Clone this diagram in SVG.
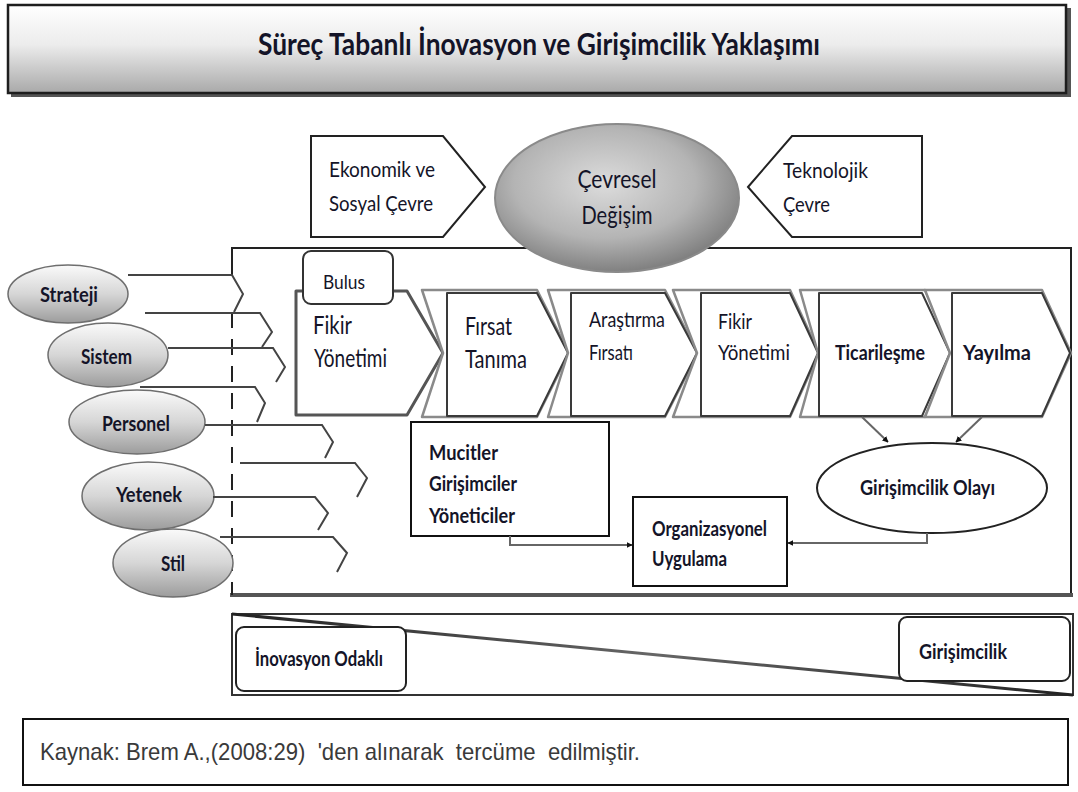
<svg xmlns="http://www.w3.org/2000/svg" width="1078" height="792" viewBox="0 0 1078 792">
  <defs>
    <linearGradient id="titleFill" x1="0" y1="0" x2="0" y2="1">
      <stop offset="0" stop-color="#ffffff"/>
      <stop offset="0.45" stop-color="#ececec"/>
      <stop offset="1" stop-color="#a9a9a9"/>
    </linearGradient>
    <linearGradient id="pillFill" x1="0" y1="0" x2="0" y2="1">
      <stop offset="0" stop-color="#fafafa"/>
      <stop offset="0.5" stop-color="#d6d6d6"/>
      <stop offset="1" stop-color="#9c9c9c"/>
    </linearGradient>
    <radialGradient id="changeFill" cx="0.45" cy="0.4" r="0.62">
      <stop offset="0" stop-color="#dcdcdc"/>
      <stop offset="0.6" stop-color="#b4b4b4"/>
      <stop offset="1" stop-color="#7c7c7c"/>
    </radialGradient>
    <linearGradient id="slopeLine" x1="0" y1="0" x2="1" y2="0">
      <stop offset="0" stop-color="#222"/>
      <stop offset="0.5" stop-color="#666"/>
      <stop offset="1" stop-color="#222"/>
    </linearGradient>
    <marker id="head" viewBox="0 0 10 10" refX="9" refY="5" markerWidth="6" markerHeight="6" orient="auto" markerUnits="userSpaceOnUse">
      <path d="M0,0 L10,5 L0,10 z" fill="#111"/>
    </marker>
    <style>
      .lbl { font-family: Lato, "Open Sans", "Liberation Sans", sans-serif; font-weight: bold; fill: #141428; }
      .reg { font-family: Lato, "Open Sans", "Liberation Sans", sans-serif; fill: #141428; }
      .pill { fill: url(#pillFill); stroke: #6e6e6e; stroke-width: 1.5; }
      .ghost { fill: #ffffff; stroke: #8a8a8a; stroke-width: 2.5; stroke-linejoin: round; }
      .step { fill: #ffffff; stroke: #3a3a3a; stroke-width: 2; stroke-linejoin: round; }
      .box { fill: #ffffff; stroke: #111; stroke-width: 2; }
      .wire { fill: none; stroke: #444; stroke-width: 2; }
      .flow { fill: none; stroke: #666; stroke-width: 2; }
    </style>
  </defs>

  <rect width="1078" height="792" fill="#ffffff"/>

  <!-- title bar -->
  <g id="title">
    <rect x="11" y="8" width="1060" height="89" fill="#555"/>
    <rect x="8" y="5" width="1058" height="88" fill="url(#titleFill)" stroke="#1e1e1e" stroke-width="2.5"/>
    <text class="lbl" x="539" y="55" font-size="30" text-anchor="middle" textLength="562" lengthAdjust="spacingAndGlyphs" fill="#000">Süreç Tabanlı İnovasyon ve Girişimcilik Yaklaşımı</text>
  </g>

  <!-- environment -->
  <g id="economic">
    <polygon points="311,136 443,136 485,187 443,237 311,237" fill="#fff" stroke="#222" stroke-width="2"/>
    <text class="reg" x="329" y="177" font-size="22" textLength="106" lengthAdjust="spacingAndGlyphs">Ekonomik ve</text>
    <text class="reg" x="329" y="211" font-size="22" textLength="104" lengthAdjust="spacingAndGlyphs">Sosyal Çevre</text>
  </g>
  <g id="technology">
    <polygon points="748,187 792,136 922,136 922,237 792,237" fill="#fff" stroke="#222" stroke-width="2"/>
    <text class="reg" x="783" y="178" font-size="22" textLength="85" lengthAdjust="spacingAndGlyphs">Teknolojik</text>
    <text class="reg" x="783" y="212" font-size="22" textLength="47" lengthAdjust="spacingAndGlyphs">Çevre</text>
  </g>

  <!-- main frame -->
  <g id="frame">
    <polyline points="232,275 232,248 1071,248 1071,595" fill="none" stroke="#222" stroke-width="2"/>
    <line x1="230" y1="595" x2="1073" y2="595" stroke="#555" stroke-width="4"/>
    <line x1="232" y1="312" x2="232" y2="595" stroke="#222" stroke-width="2" stroke-dasharray="16 11"/>
  </g>

  <g id="change">
    <ellipse cx="617" cy="198" rx="122" ry="74" fill="url(#changeFill)" stroke="#8a8a8a" stroke-width="2"/>
    <text class="reg" x="617" y="188" font-size="25" text-anchor="middle" textLength="79" lengthAdjust="spacingAndGlyphs">Çevresel</text>
    <text class="reg" x="617" y="224" font-size="25" text-anchor="middle" textLength="71" lengthAdjust="spacingAndGlyphs">Değişim</text>
  </g>

  <!-- process chain -->
  <g id="step-fikir">
    <polygon points="296,291 407,291 443,353 407,415 296,415" fill="#fff" stroke="#555" stroke-width="3" stroke-linejoin="round"/>
    <text class="reg" x="313" y="334" font-size="25" textLength="39" lengthAdjust="spacingAndGlyphs">Fikir</text>
    <text class="reg" x="314" y="367" font-size="25" textLength="73" lengthAdjust="spacingAndGlyphs">Yönetimi</text>
  </g>
  <g id="bulus">
    <rect x="303" y="251" width="90" height="53" rx="8" fill="#fff" stroke="#333" stroke-width="2"/>
    <text class="reg" x="323" y="289" font-size="19" textLength="42" lengthAdjust="spacingAndGlyphs">Bulus</text>
  </g>
  <g id="step-firsat">
    <polygon class="ghost" points="422,290 537,290 569,353 537,417 422,417 443,353"/>
    <polygon class="step" points="447,293 537,293 568,353 537,416 447,416"/>
    <text class="reg" x="465" y="335" font-size="25" textLength="47" lengthAdjust="spacingAndGlyphs">Fırsat</text>
    <text class="reg" x="465" y="368" font-size="25" textLength="62" lengthAdjust="spacingAndGlyphs">Tanıma</text>
  </g>
  <g id="step-arastirma">
    <polygon class="ghost" points="548,290 665,290 698,353 665,417 548,417 568,353"/>
    <polygon class="step" points="571,293 665,293 697,353 665,416 571,416"/>
    <text class="reg" x="589" y="327" font-size="21" textLength="76" lengthAdjust="spacingAndGlyphs">Araştırma</text>
    <text class="reg" x="589" y="360" font-size="21" textLength="44" lengthAdjust="spacingAndGlyphs">Fırsatı</text>
  </g>
  <g id="step-fikir2">
    <polygon class="ghost" points="673,290 790,290 819,353 790,417 673,417 697,353"/>
    <polygon class="step" points="701,293 790,293 818,353 790,416 701,416"/>
    <text class="reg" x="718" y="329" font-size="21" textLength="34" lengthAdjust="spacingAndGlyphs">Fikir</text>
    <text class="reg" x="718" y="360" font-size="21" textLength="72" lengthAdjust="spacingAndGlyphs">Yönetimi</text>
  </g>
  <g id="step-ticari">
    <polygon class="ghost" points="800,290 925,290 953,353 925,417 800,417 818,353"/>
    <polygon class="step" points="819,293 922,293 950,353 922,416 819,416"/>
    <text class="lbl" x="835" y="360" font-size="21" textLength="90" lengthAdjust="spacingAndGlyphs">Ticarileşme</text>
  </g>
  <g id="step-yayilma">
    <polygon class="ghost" points="925,290 1042,290 1071,353 1042,417 925,417 950,353"/>
    <polygon class="step" points="952,293 1042,293 1070,353 1042,416 952,416"/>
    <text class="lbl" x="963" y="360" font-size="21" textLength="68" lengthAdjust="spacingAndGlyphs">Yayılma</text>
  </g>

  <!-- actors and outcome -->
  <g id="actors">
    <rect class="box" x="411" y="422" width="198" height="114"/>
    <text class="lbl" x="429" y="460" font-size="21" textLength="69" lengthAdjust="spacingAndGlyphs">Mucitler</text>
    <text class="lbl" x="429" y="491" font-size="21" textLength="88" lengthAdjust="spacingAndGlyphs">Girişimciler</text>
    <text class="lbl" x="429" y="523" font-size="21" textLength="86" lengthAdjust="spacingAndGlyphs">Yöneticiler</text>
  </g>
  <g id="org">
    <rect class="box" x="633" y="497" width="154" height="89"/>
    <text class="lbl" x="652" y="536" font-size="21" textLength="115" lengthAdjust="spacingAndGlyphs">Organizasyonel</text>
    <text class="lbl" x="652" y="566" font-size="21" textLength="75" lengthAdjust="spacingAndGlyphs">Uygulama</text>
  </g>
  <g id="event">
    <ellipse cx="932" cy="488" rx="115" ry="45" fill="#fff" stroke="#222" stroke-width="2"/>
    <text class="lbl" x="860" y="495" font-size="21" textLength="135" lengthAdjust="spacingAndGlyphs">Girişimcilik Olayı</text>
  </g>

  <!-- left drivers -->
  <g id="strateji">
    <ellipse class="pill" cx="68" cy="294" rx="60" ry="29"/>
    <text class="lbl" x="40" y="302" font-size="21" textLength="58" lengthAdjust="spacingAndGlyphs">Strateji</text>
  </g>
  <g id="sistem">
    <ellipse class="pill" cx="108" cy="355" rx="60" ry="32"/>
    <text class="lbl" x="81" y="364" font-size="21" textLength="51" lengthAdjust="spacingAndGlyphs">Sistem</text>
  </g>
  <g id="personel">
    <ellipse class="pill" cx="137" cy="422" rx="68" ry="32"/>
    <text class="lbl" x="102" y="431" font-size="21" textLength="68" lengthAdjust="spacingAndGlyphs">Personel</text>
  </g>
  <g id="yetenek">
    <ellipse class="pill" cx="148" cy="496" rx="66" ry="34"/>
    <text class="lbl" x="116" y="502" font-size="21" textLength="66" lengthAdjust="spacingAndGlyphs">Yetenek</text>
  </g>
  <g id="stil">
    <ellipse class="pill" cx="173" cy="563" rx="60" ry="34"/>
    <text class="lbl" x="161" y="571" font-size="21" textLength="24" lengthAdjust="spacingAndGlyphs">Stil</text>
  </g>

  <!-- connectors -->
  <g id="connectors">
    <polyline class="wire" points="128,275 232,275 243,294 234,312"/>
    <polyline class="wire" points="145,313 260,313 272,332 262,347"/>
    <polyline class="wire" points="168,348 273,348 285,367 276,382"/>
    <polyline class="wire" points="140,387 255,387 265,403 257,422"/>
    <polyline class="wire" points="205,425 322,425 333,442 325,458"/>
    <polyline class="wire" points="240,463 355,463 367,478 357,497"/>
    <polyline class="wire" points="213,497 315,497 328,513 318,530"/>
    <polyline class="wire" points="220,537 333,537 347,553 337,572"/>

    <line class="flow" x1="862" y1="417" x2="888" y2="442" marker-end="url(#head)"/>
    <line class="flow" x1="982" y1="417" x2="956" y2="442" marker-end="url(#head)"/>
    <polyline class="flow" points="510,536 510,545 632,545" marker-end="url(#head)"/>
    <polyline class="flow" points="927,533 927,543 788,543" marker-end="url(#head)"/>
  </g>

  <!-- orientation scale -->
  <g id="scale">
    <rect x="232" y="614" width="841" height="81" fill="#fff" stroke="#333" stroke-width="2"/>
    <line x1="232" y1="614" x2="1073" y2="695" stroke="url(#slopeLine)" stroke-width="3"/>
    <rect x="236" y="627" width="170" height="64" rx="8" fill="#fff" stroke="#222" stroke-width="2"/>
    <text class="lbl" x="255" y="666" font-size="20" textLength="128" lengthAdjust="spacingAndGlyphs">İnovasyon Odaklı</text>
    <rect x="899" y="617" width="171" height="64" rx="8" fill="#fff" stroke="#222" stroke-width="2"/>
    <text class="lbl" x="919" y="659" font-size="20" textLength="88" lengthAdjust="spacingAndGlyphs">Girişimcilik</text>
  </g>

  <!-- source note -->
  <g id="source">
    <rect x="23" y="719" width="1045" height="66" fill="#fff" stroke="#111" stroke-width="2"/>
    <text x="40" y="760" font-family="'Liberation Sans', Arial, sans-serif" font-size="24" fill="#3a3a3a" textLength="600" lengthAdjust="spacingAndGlyphs" xml:space="preserve">Kaynak: Brem A.,(2008:29)  'den alınarak  tercüme  edilmiştir.</text>
  </g>
</svg>
